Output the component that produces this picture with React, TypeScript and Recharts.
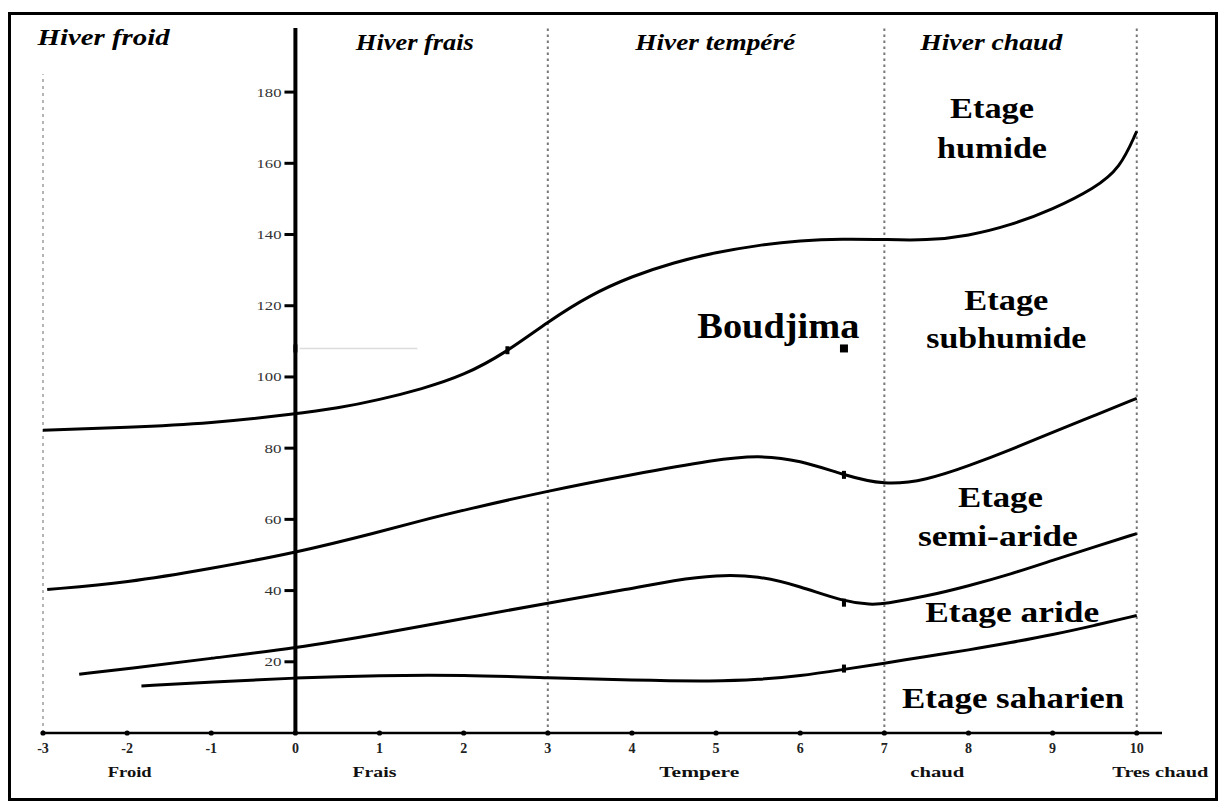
import React from 'react';
import { ComposedChart, Line, Scatter, XAxis, YAxis, ReferenceLine, ReferenceDot } from 'recharts';

const serif = "'Liberation Serif', 'DejaVu Serif', serif";

// axes
const xTicks = [-3, -2, -1, 0, 1, 2, 3, 4, 5, 6, 7, 8, 9, 10];
const yTicks = [20, 40, 60, 80, 100, 120, 140, 160, 180];
const catM = [-1.97, 0.94, 4.8, 7.63, 10.28];
const catLabels = ['Froid', 'Frais', 'Tempere', 'chaud', 'Tres chaud'];
const catWidths = [44, 44, 80, 54, 96];
const catQ = -10.9;

// winter zones (top)
const hiverLabels = ['Hiver froid', 'Hiver frais', 'Hiver tempéré', 'Hiver chaud'];
const hiverX = [-2.28, 1.42, 4.99, 8.27];
const hiverY = [195.4, 194.2, 194.2, 194.2];
const hiverWidths = [132, 118, 160, 142];
const dividers = [3, 7, 10];

// bioclimatic stages
const etageLabels = ['Etage', 'humide', 'Etage', 'subhumide', 'Etage', 'semi-aride', 'Etage aride', 'Etage saharien'];
const etageX = [8.28, 8.28, 8.45, 8.45, 8.38, 8.35, 8.52, 8.53];
const etageY = [175.6, 164.4, 121.5, 110.8, 66.2, 55.2, 33.9, 9.8];
const etageWidths = [84, 110, 84, 160, 85, 160, 174, 222];

// limit curves (m, Q2)
const humideX = [-3, -2, -1, 0, 0.5, 1, 1.5, 2, 2.5, 3, 3.5, 4, 4.5, 5, 5.5, 6, 6.5, 7, 7.5, 8, 8.5, 9, 9.5, 9.8, 10];
const humideQ = [85, 85.8, 87, 89.6, 91.2, 93.6, 96.6, 100.4, 106.8, 115.5, 123, 128.3, 132.2, 135, 137, 138.3, 138.8, 138.6, 138.3, 139.6, 142.6, 147, 153, 158.5, 169];

const subhumideX = [-2.95, -2, -1, 0, 1, 1.5, 2, 3, 4, 5, 5.5, 6, 6.5, 7, 7.5, 8, 8.5, 9, 9.5, 10];
const subhumideQ = [40.3, 42.2, 46.2, 50.6, 56.5, 59.7, 62.6, 68, 72.6, 76.8, 78, 76.6, 72.6, 69.5, 71, 75, 79.5, 84.5, 89.2, 94];

const semiarideX = [-2.57, -2, -1, 0, 1, 2, 3, 4, 4.5, 5, 5.5, 6, 6.5, 6.85, 7, 7.5, 8, 8.5, 9, 9.5, 10];
const semiarideQ = [16.5, 18, 21, 23.8, 27.8, 32.2, 36.5, 40.6, 42.9, 44.4, 44.2, 41.2, 37, 36, 36.3, 38.4, 41.3, 44.6, 48.5, 52.3, 56];

const arideX = [-1.83, -1, 0, 1, 2, 3, 4, 5, 5.5, 6, 6.5, 7, 7.5, 8, 8.5, 9, 9.5, 10];
const arideQ = [13.2, 14.3, 15.5, 16.2, 16.3, 15.5, 14.8, 14.5, 15, 16, 17.8, 19.6, 21.5, 23.3, 25.4, 27.6, 30.2, 33];

// station
const stationM = [6.52];
const stationQ = [108];
// projection marks of the station
const markM = [6.52, 6.52, 6.52, 2.52, 0];
const markQ = [72.5, 36.6, 18.1, 107.5, 108];

const pts = (xs: number[], ys: number[]) => xs.map((m, i) => ({ m, q: ys[i] }));

const textShape = (label: string, w: number, size: number, opts: any = {}) => (p: any) => (
  <text
    x={p.cx}
    y={p.cy}
    textAnchor={opts.anchor || 'middle'}
    dominantBaseline="central"
    textLength={w}
    lengthAdjust="spacingAndGlyphs"
    fontSize={size}
    fontFamily={serif}
    fontWeight={opts.weight || 'bold'}
    fontStyle={opts.style || 'normal'}
    fill={opts.fill || '#000'}
  >
    {label}
  </text>
);

const NumTick = (p: any) => (
  <g>
    <circle cx={p.x} cy={p.y} r={2.6} fill="#000" />
    <text x={p.x} y={p.y + 20} textAnchor="middle" fontSize={14} fontWeight="bold" fontFamily={serif} fill="#222">
      {p.payload.value}
    </text>
  </g>
);

const MarkShape = (p: any) => <rect x={p.cx - 2} y={p.cy - 4} width={4} height={8} fill="#000" />;

export default function App() {
  return (
    <div style={{ position: 'absolute', left: 0, top: 0, width: 1225, height: 809, background: '#fff' }}>
      <div style={{ position: 'absolute', left: 8, top: 12, width: 1210, height: 789, border: '3px solid #000', boxSizing: 'border-box' }} />
      <div style={{ position: 'absolute', left: 0, top: 0 }}>
        <ComposedChart width={1225} height={809} margin={{ top: 28, right: 63, bottom: 54, left: 43 }}>
          <XAxis dataKey="m" type="number" domain={[-3, 10.3]} ticks={xTicks} interval={0} height={22}
            tickSize={0} tickMargin={0} tickLine={false} axisLine={{ stroke: '#000', strokeWidth: 2.5 }} tick={<NumTick />} />
          <YAxis dataKey="q" type="number" domain={[0, 198]} hide allowDataOverflow />

          <ReferenceLine segment={[{ x: -3, y: 0 }, { x: -3, y: 185 }]} stroke="#b5b5b5" strokeWidth={2} strokeDasharray="3 4" />
          {dividers.map((d) => (
            <ReferenceLine key={d} segment={[{ x: d, y: 0 }, { x: d, y: 198 }]} stroke="#777" strokeWidth={2} strokeDasharray="2.5 3.5" />
          ))}
          <ReferenceLine x={0} stroke="#000" strokeWidth={4} />
          {yTicks.map((v) => (
            <ReferenceLine key={'t' + v} segment={[{ x: -0.13, y: v }, { x: 0, y: v }]} stroke="#000" strokeWidth={3} />
          ))}
          {yTicks.map((v) => (
            <ReferenceDot key={'l' + v} x={-0.165} y={v} ifOverflow="visible"
              shape={textShape(String(v), v >= 100 ? 25 : 17, 13, { anchor: 'end', weight: 'normal', fill: '#333' })} />
          ))}
          <ReferenceLine segment={[{ x: 0.05, y: 108 }, { x: 1.45, y: 108 }]} stroke="#dcdcdc" strokeWidth={1.5} />

          {catLabels.map((t, i) => (
            <ReferenceDot key={'c' + i} x={catM[i]} y={catQ} ifOverflow="visible"
              shape={textShape(t, catWidths[i], 15, { fill: '#111' })} />
          ))}
          {hiverLabels.map((t, i) => (
            <ReferenceDot key={t} x={hiverX[i]} y={hiverY[i]} ifOverflow="visible"
              shape={textShape(t, hiverWidths[i], 24, { style: 'italic' })} />
          ))}
          {etageLabels.map((t, i) => (
            <ReferenceDot key={'e' + i} x={etageX[i]} y={etageY[i]} ifOverflow="visible"
              shape={textShape(t, etageWidths[i], 29)} />
          ))}
          <ReferenceDot x={5.74} y={114.2} ifOverflow="visible" shape={textShape('Boudjima', 162, 35)} />

          <Line data={pts(humideX, humideQ)} dataKey="q" type="basis" stroke="#000" strokeWidth={3} dot={false} isAnimationActive={false} />
          <Line data={pts(subhumideX, subhumideQ)} dataKey="q" type="basis" stroke="#000" strokeWidth={3} dot={false} isAnimationActive={false} />
          <Line data={pts(semiarideX, semiarideQ)} dataKey="q" type="basis" stroke="#000" strokeWidth={3} dot={false} isAnimationActive={false} />
          <Line data={pts(arideX, arideQ)} dataKey="q" type="basis" stroke="#000" strokeWidth={3} dot={false} isAnimationActive={false} />
          <Scatter data={pts(markM, markQ)} dataKey="q" shape={<MarkShape />} isAnimationActive={false} />
          <Scatter data={pts(stationM, stationQ)} dataKey="q" shape="square" fill="#000" isAnimationActive={false} />
        </ComposedChart>
      </div>
    </div>
  );
}
